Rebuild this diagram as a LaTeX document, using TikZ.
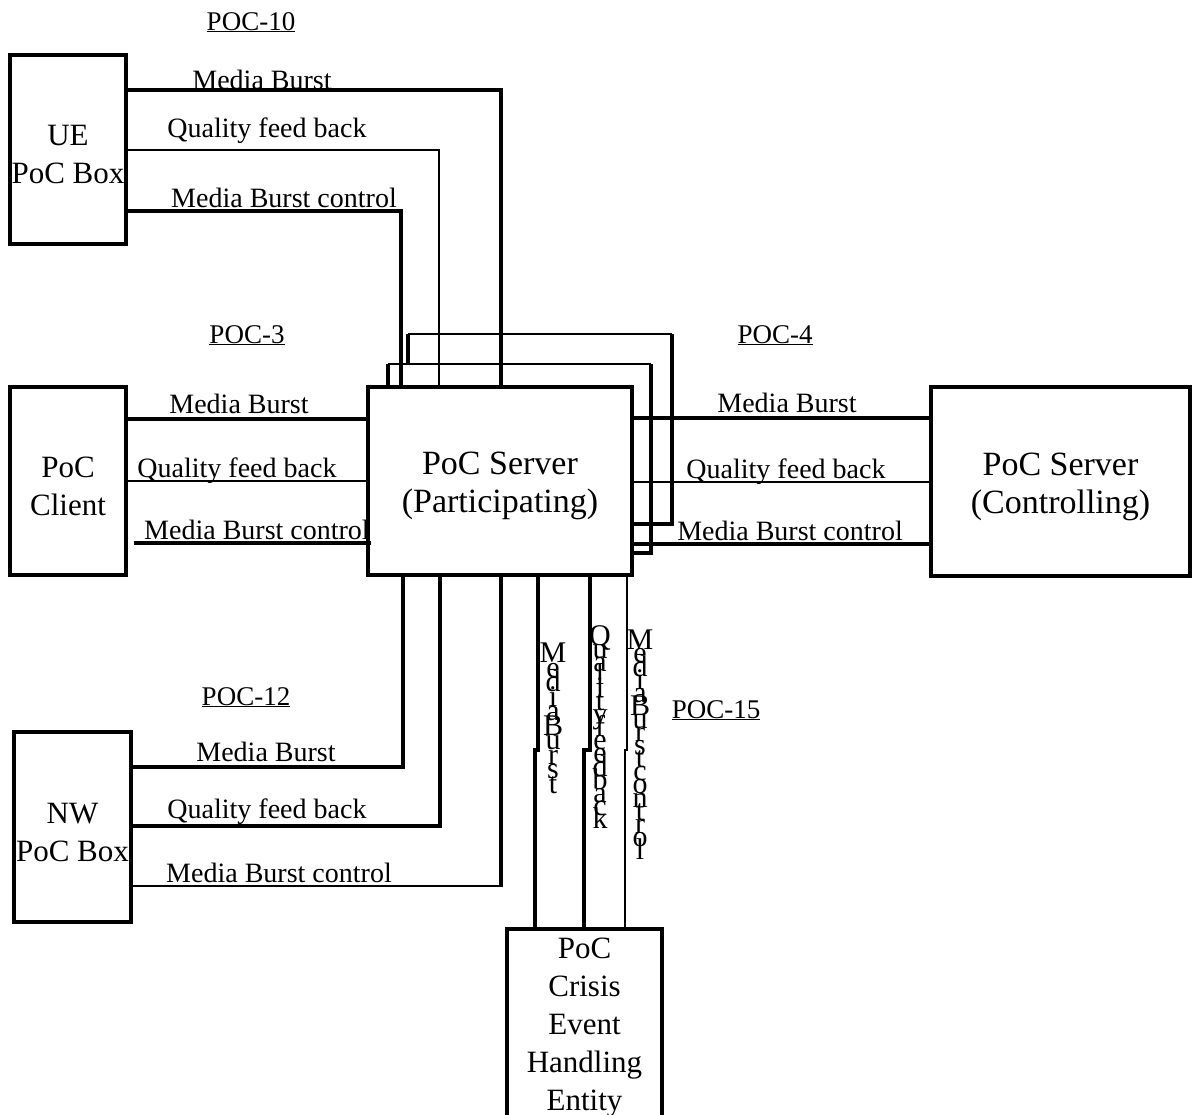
\documentclass[tikz,border=0pt]{standalone}
\usepackage{fontspec}
\setmainfont{Liberation Serif}
\newcommand{\tightstack}{\lineskiplimit=-100pt\relax\lineskip=0pt\relax}
\newcommand{\boxstrut}[1][30.5pt]{\rule{0pt}{#1}}

\begin{document}
\begin{tikzpicture}[x=1pt,y=-1pt,
  box/.style={draw,line width=3.5pt,align=center,inner sep=0pt,font=\fontsize{31}{38}\selectfont},
  bigbox/.style={box,font=\fontsize{34}{38}\selectfont},
  bus/.style={line width=3.2pt},
  link/.style={line width=1.2pt},
  mid/.style={line width=2pt},
  lbl/.style={anchor=base,inner sep=0pt,font=\fontsize{28}{32}\selectfont},
  ifc/.style={anchor=base,inner sep=0pt,font=\fontsize{27}{32}\selectfont},
  vlbl/.style={anchor=north,inner sep=0pt,align=center,
    font={\fontsize{30}{#1}\selectfont\tightstack}},
  vlbl/.default=13.1]
  \useasboundingbox (0,0) rectangle (1193,1114);

  % boxes
  \node[box,minimum width=116,minimum height=189] (ue) at (68,149.5) {\boxstrut UE\\PoC Box};
  \node[box,minimum width=116,minimum height=188] (client) at (68,481) {\boxstrut PoC\\Client};
  \node[box,minimum width=117,minimum height=190] (nw) at (72.5,827) {\boxstrut NW\\PoC Box};
  \node[bigbox,minimum width=264,minimum height=188] (srv) at (500,481)
    {\boxstrut[32.5pt]PoC Server\\(Participating)};
  \node[bigbox,minimum width=259,minimum height=189] (ctrl) at (1060.5,481.5)
    {\boxstrut[32.5pt]PoC Server\\(Controlling)};
  \node[box,minimum width=155,minimum height=198,anchor=north] (crisis) at (584.5,927)
    {PoC\\Crisis\\Event\\Handling\\Entity};

  % POC-10
  \draw[bus] (ue.east |- 0,90) -| (srv.north -| 501,0);
  \draw[link] (ue.east |- 0,150) -| (srv.north -| 439,0);
  \draw[bus] (ue.east |- 0,211) -| (srv.north -| 401,0);
  \node[ifc] (p10) at (251,30) {\underline{POC-10}};
  \node[lbl] (u1) at (262,89) {Media Burst};
  \node[lbl] (u2) at (267,137) {Quality feed back};
  \node[lbl] (u3) at (284,207) {Media Burst control};

  % POC-3
  \draw[bus] (client.east |- 0,419) -- (srv.west |- 0,419);
  \draw[link] (client.east |- 0,481) -- (srv.west |- 0,481);
  \draw[bus] ([xshift=6]client.east |- 0,543) -- ([xshift=5]srv.west |- 0,543);
  \node[ifc] (p3) at (247,343) {\underline{POC-3}};
  \node[lbl] (c1) at (239,413) {Media Burst};
  \node[lbl] (c2) at (237,477) {Quality feed back};
  \node[lbl] (c3) at (257,539) {Media Burst control};

  % POC-4
  \coordinate (b2tl) at (388,364);
  \coordinate (b2tr) at (651,364);
  \coordinate (b3tl) at (408,334);
  \coordinate (b3tr) at (672,334);
  \draw[bus] (srv.east |- 0,553) -| (b2tr);
  \draw[mid] (b2tr) -- (b2tl);
  \draw[bus] (b2tl) -- (srv.north -| b2tl);
  \draw[bus] (srv.east |- 0,524) -| (b3tr);
  \draw[mid] (b3tr) -- (b3tl);
  \draw[bus] (b3tl) -- (b2tl -| b3tl);
  \draw[bus] (srv.east |- 0,418) -- (ctrl.west |- 0,418);
  \draw[link] (srv.east |- 0,482) -- (ctrl.west |- 0,482);
  \draw[bus] (srv.east |- 0,544) -- (ctrl.west |- 0,544);
  \node[ifc] (p4) at (775,343) {\underline{POC-4}};
  \node[lbl] (s1) at (787,412) {Media Burst};
  \node[lbl] (s2) at (786,478) {Quality feed back};
  \node[lbl] (s3) at (790,540) {Media Burst control};

  % POC-12
  \draw[bus] (srv.south -| 403,0) |- (nw.east |- 0,767);
  \draw[bus] (srv.south -| 440,0) |- (nw.east |- 0,826);
  \draw[bus] (srv.south -| 501,0) -- (501,886);
  \draw[link] (502.6,886) -- (nw.east |- 0,886);
  \node[ifc] (p12) at (246,705) {\underline{POC-12}};
  \node[lbl] (n1) at (266,761) {Media Burst};
  \node[lbl] (n2) at (267,818) {Quality feed back};
  \node[lbl] (n3) at (279,882) {Media Burst control};

  % POC-15
  \draw[bus] (srv.south -| 538,0) -- (538,750) -- (535,750) -- (crisis.north -| 535,0);
  \draw[bus] (srv.south -| 590,0) -- (590,750) -- (584,750) -- (crisis.north -| 584,0);
  \draw[link] (srv.south -| 627,0) -- (627,750) -- (625,750) -- (crisis.north -| 625,0);
  \node[ifc] (p15) at (716,718) {\underline{POC-15}};
  \node[vlbl=14.5] (e1) at (553,643) {M\\e\\d\\i\\a\\B\\u\\r\\s\\t};
  \node[vlbl] (e2) at (600,625) {Q\\u\\a\\l\\i\\t\\y\\f\\e\\e\\d\\b\\a\\c\\k};
  \node[vlbl] (e3) at (640,630) {M\\e\\d\\i\\a\\B\\u\\r\\s\\t\\c\\o\\n\\t\\r\\o\\l};
\end{tikzpicture}
\end{document}
